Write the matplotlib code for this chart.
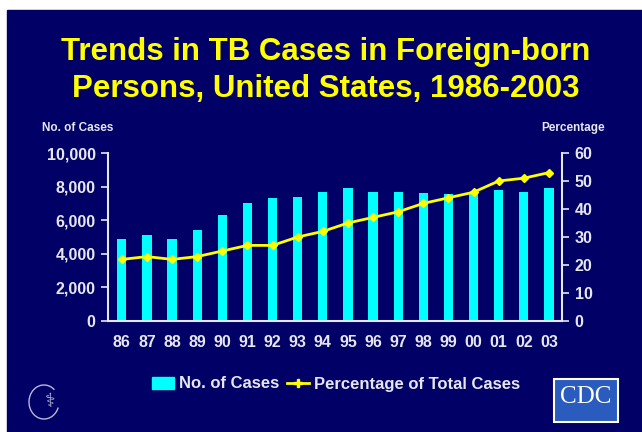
import matplotlib
matplotlib.use("Agg")
import matplotlib.pyplot as plt
from matplotlib.patches import Rectangle, Arc
from matplotlib.lines import Line2D
import numpy as np

years = ["86", "87", "88", "89", "90", "91", "92", "93", "94",
         "95", "96", "97", "98", "99", "00", "01", "02", "03"]
cases = [4900, 5100, 4900, 5400, 6300, 7000, 7300, 7400, 7700,
         7900, 7700, 7700, 7600, 7550, 7650, 7800, 7700, 7900]
percent = [22, 23, 22, 23, 25, 27, 27, 30, 32,
           35, 37, 39, 42, 44, 46, 50, 51, 53]

NAVY = "#000066"
CYAN = "#00FFFF"
YELLOW = "#FFFF00"
TXT = "#E6E6EE"
FONT = "Liberation Sans"

plt.rcParams["font.family"] = [FONT, "DejaVu Sans"]

fig = plt.figure(figsize=(6.42, 4.32), dpi=100, facecolor="white")
fig.patches.append(Rectangle((7 / 642, 0), 1, 1 - 10 / 432, transform=fig.transFigure,
                             color=NAVY, zorder=-10))

ax = fig.add_axes([108 / 642, 1 - 321 / 432, (562 - 108) / 642, (321 - 153) / 432])
ax.set_facecolor("none")
x = np.arange(len(years))
ax.bar(x, cases, width=0.37, color=CYAN, zorder=2)
ax.set_xlim(-0.55, len(years) - 0.48)
ax.set_ylim(0, 10000)
ax.set_yticks(range(0, 10001, 2000))
ax.set_yticklabels([f"{v:,}" for v in range(0, 10001, 2000)])
ax.set_xticks(x)
ax.set_xticklabels(years)

ax2 = ax.twinx()
ax2.plot(x, percent, color=YELLOW, lw=2, marker="D", ms=4, zorder=3)
ax2.set_ylim(0, 60)
ax2.set_yticks(range(0, 61, 10))

for a in (ax, ax2):
    for s in a.spines.values():
        s.set_visible(False)
    a.tick_params(colors=TXT, labelcolor=TXT, width=1.2, length=5, labelsize=11.5, pad=4)
    for lab in a.get_xticklabels() + a.get_yticklabels():
        lab.set_fontweight("bold")
ax.tick_params(axis="x", length=0, pad=10)
ax.spines["left"].set_visible(True)
ax.spines["bottom"].set_visible(True)
ax2.spines["right"].set_visible(True)
for s in (ax.spines["left"], ax.spines["bottom"], ax2.spines["right"]):
    s.set_color(TXT)
    s.set_linewidth(1.5)

fig.text(0.508, 1 - 52 / 432, "Trends in TB Cases in Foreign-born", ha="center", va="center",
         color=YELLOW, fontsize=22.5, fontweight="bold")
fig.text(0.508, 1 - 89 / 432, "Persons, United States, 1986-2003", ha="center", va="center",
         color=YELLOW, fontsize=22.5, fontweight="bold")

fig.text(42 / 642, 1 - 128 / 432, "No. of Cases", color=TXT, fontsize=8.5, fontweight="bold",
         va="center")
fig.text(541 / 642, 1 - 128 / 432, "Percentage", color=TXT, fontsize=8.5, fontweight="bold",
         va="center")

handles = [Rectangle((0, 0), 1, 1, color=CYAN),
           Line2D([], [], color=YELLOW, lw=2, marker="P", ms=6)]
leg = fig.legend(handles, ["No. of Cases", "Percentage of Total Cases"], loc="center",
                 bbox_to_anchor=(336 / 642, 1 - 384 / 432), ncol=2, frameon=False,
                 handlelength=1.3, handletextpad=0.3, columnspacing=0.5,
                 prop={"weight": "bold", "size": 12})
for t in leg.get_texts():
    t.set_color(TXT)

# CDC logo box
fig.patches.append(Rectangle((554 / 642, 1 - 422 / 432), 64 / 642, 43 / 432,
                             transform=fig.transFigure, facecolor="#2a5cc0",
                             edgecolor="white", lw=1.5, zorder=5))
fig.text(586 / 642, 1 - 397 / 432, "CDC", color="white", fontsize=18, ha="center",
         va="center", family="Liberation Serif", zorder=6)

# HHS emblem (simplified)
fig.patches.append(Arc((44 / 642, 1 - 402 / 432), 30 / 642, 34 / 432, theta1=60, theta2=330,
                       transform=fig.transFigure, color="#B8B8D8", lw=1))
fig.text(50 / 642, 1 - 402 / 432, "\u2695", color="#B8B8D8", fontsize=14, ha="center",
         va="center", family="DejaVu Sans")

fig.savefig("out.png", dpi=100, facecolor="white")
